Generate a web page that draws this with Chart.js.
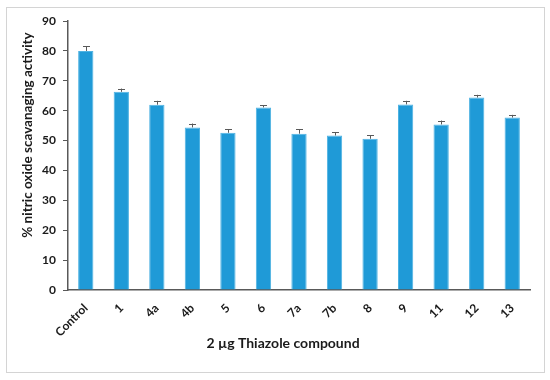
<!DOCTYPE html>
<html>
<head>
<meta charset="utf-8">
<script src="https://cdn.jsdelivr.net/npm/chart.js@4"></script>
<style>
  html, body { margin: 0; padding: 0; background: #fff; }
  #wrap { width: 550px; height: 380px; position: relative; }
</style>
</head>
<body>
<div id="wrap"><canvas id="barChart"></canvas></div>
<script>
// Data
const compounds = ['Control', '1', '4a', '4b', '5', '6', '7a', '7b', '8', '9', '11', '12', '13'];
const scavenging = [80.0, 66.3, 62.0, 54.4, 52.6, 61.1, 52.3, 51.7, 50.6, 62.1, 55.4, 64.4, 57.7];
const errors = [1.5, 1.1, 1.3, 1.3, 1.1, 0.7, 1.4, 1.0, 1.1, 1.2, 1.3, 0.9, 0.9];
const yTicks = [0, 10, 20, 30, 40, 50, 60, 70, 80, 90];

const yTitle = '% nitric oxide scavanaging activity';
const xTitle = '2 \u00b5g Thiazole compound';

const FONT = 'Lato, "Open Sans", sans-serif';
const axisGray = '#595959';

// frame + axis titles
const decor = {
    id: 'decor',
    beforeDraw(chart) {
        const ctx = chart.ctx;
        ctx.save();
        ctx.fillStyle = '#fff';
        ctx.fillRect(0, 0, chart.width, chart.height);
        ctx.strokeStyle = '#d4d4d4';
        ctx.lineWidth = 1;
        ctx.strokeRect(6.5, 7.5, 538, 365);
        ctx.restore();
    },
    afterDraw(chart) {
        const ctx = chart.ctx;
        ctx.save();
        ctx.fillStyle = '#1a1a1a';
        ctx.textAlign = 'center';
        ctx.textBaseline = 'middle';
        ctx.font = 'bold 14px ' + FONT;
        ctx.fillText(xTitle, 283, 343);
        ctx.translate(28, 135);
        ctx.rotate(-Math.PI / 2);
        ctx.font = 'bold 13.5px ' + FONT;
        ctx.fillText(yTitle, 0, 0);
        ctx.restore();
    }
};

// error bars (upper only)
const errorBars = {
    id: 'errorBars',
    afterDatasetsDraw(chart) {
        const ctx = chart.ctx;
        const yScale = chart.scales.y;
        const meta = chart.getDatasetMeta(0);
        ctx.save();
        ctx.strokeStyle = axisGray;
        ctx.lineWidth = 1;
        meta.data.forEach((bar, i) => {
            const x = Math.round(bar.x) + 0.5;
            const yTop = yScale.getPixelForValue(scavenging[i] + errors[i]);
            const yBase = yScale.getPixelForValue(scavenging[i]);
            ctx.beginPath();
            ctx.moveTo(x, yBase);
            ctx.lineTo(x, yTop);
            ctx.moveTo(x - 3.5, Math.round(yTop) + 0.5);
            ctx.lineTo(x + 3.5, Math.round(yTop) + 0.5);
            ctx.stroke();
        });
        ctx.restore();
    }
};

const ctxBar = document.getElementById('barChart').getContext('2d');
const barChart = new Chart(ctxBar, {
    type: 'bar',
    data: {
        labels: compounds,
        datasets: [{
            label: 'Scavenging',
            data: scavenging,
            backgroundColor: '#1f9ad7',
            borderColor: '#4fb3e3',
            borderWidth: 1,
            borderSkipped: 'bottom',
            categoryPercentage: 1.0,
            barPercentage: 0.43
        }]
    },
    options: {
        responsive: true,
        maintainAspectRatio: false,
        animation: false,
        layout: {
            padding: { left: 10, right: 20, top: 21, bottom: 10 }
        },
        plugins: {
            legend: { display: false },
            tooltip: { enabled: false }
        },
        scales: {
            x: {
                grid: { display: false },
                border: { display: true, color: axisGray, width: 1.5 },
                ticks: {
                    minRotation: 45,
                    maxRotation: 45,
                    padding: 3,
                    color: '#1a1a1a',
                    font: { family: FONT, size: 12, weight: 'bold' }
                },
                afterFit(scale) { scale.height = 80; }
            },
            y: {
                min: 0,
                max: 90,
                afterBuildTicks(scale) {
                    scale.ticks = yTicks.map(v => ({ value: v }));
                },
                grid: {
                    drawOnChartArea: false,
                    drawTicks: true,
                    tickLength: 5,
                    color: axisGray
                },
                border: { display: true, color: axisGray, width: 1.5 },
                ticks: {
                    padding: 7,
                    color: '#1a1a1a',
                    font: { family: FONT, size: 12, weight: 'bold' }
                },
                afterFit(scale) { scale.width = 58; }
            }
        }
    },
    plugins: [decor, errorBars]
});
</script>
</body>
</html>
